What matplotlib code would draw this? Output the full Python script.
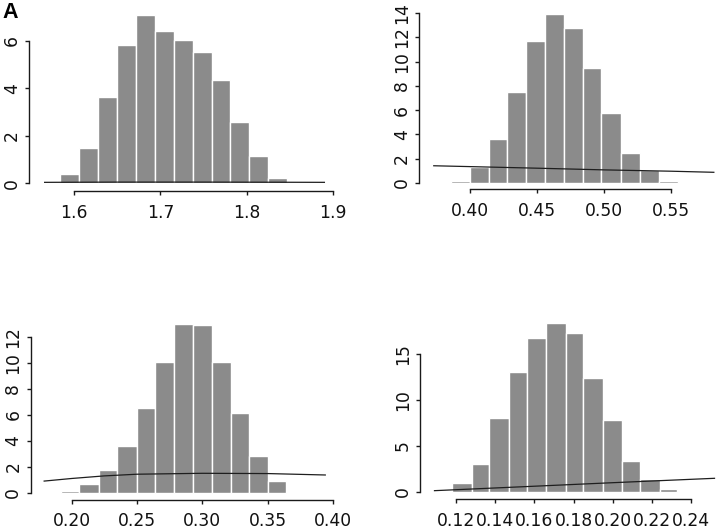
import numpy as np
import matplotlib
matplotlib.use('Agg')
import matplotlib.pyplot as plt

plt.rcParams['font.family'] = ['DejaVu Sans']

# bin edges / bar heights, plus the overlaid curve
edges1 = [1.584, 1.606, 1.628, 1.650, 1.672, 1.694, 1.716, 1.738, 1.760, 1.781, 1.803, 1.825, 1.847]
heights1 = [0.39, 1.50, 3.62, 5.83, 7.09, 6.43, 6.03, 5.55, 4.35, 2.58, 1.15, 0.21]
curve1_x = [1.566, 1.65, 1.75, 1.89]
curve1_y = [0.04, 0.05, 0.05, 0.04]
xticks1 = [1.6, 1.7, 1.8, 1.9]
xlabels1 = ['1.6', '1.7', '1.8', '1.9']
yticks1 = [0, 2, 4, 6]

edges2 = [0.386, 0.400, 0.414, 0.428, 0.442, 0.456, 0.470, 0.484, 0.498, 0.513, 0.527, 0.541, 0.555]
heights2 = [0.15, 1.27, 3.59, 7.50, 11.75, 13.96, 12.8, 9.46, 5.74, 2.46, 1.02, 0.15]
curve2_x = [0.373, 0.40, 0.45, 0.50, 0.55, 0.582]
curve2_y = [1.40, 1.33, 1.20, 1.06, 0.95, 0.86]
xticks2 = [0.40, 0.45, 0.50, 0.55]
xlabels2 = ['0.40', '0.45', '0.50', '0.55']
yticks2 = [0, 2, 4, 6, 8, 10, 12, 14]

edges3 = [0.192, 0.206, 0.221, 0.235, 0.250, 0.264, 0.278, 0.293, 0.307, 0.322, 0.336, 0.350, 0.364]
heights3 = [0.10, 0.70, 1.75, 3.61, 6.55, 10.05, 13.04, 12.94, 10.05, 6.19, 2.86, 0.90]
curve3_x = [0.179, 0.20, 0.225, 0.25, 0.30, 0.35, 0.394]
curve3_y = [0.90, 1.10, 1.30, 1.43, 1.50, 1.48, 1.37]
xticks3 = [0.20, 0.25, 0.30, 0.35, 0.40]
xlabels3 = ['0.20', '0.25', '0.30', '0.35', '0.40']
yticks3 = [0, 2, 4, 6, 8, 10, 12]

edges4 = [0.118, 0.128, 0.137, 0.147, 0.156, 0.166, 0.176, 0.185, 0.195, 0.205, 0.214, 0.224, 0.233]
heights4 = [0.98, 3.06, 8.01, 13.03, 16.8, 18.4, 17.3, 12.45, 7.83, 3.35, 1.35, 0.25]
curve4_x = [0.109, 0.15, 0.20, 0.252]
curve4_y = [0.11, 0.50, 0.98, 1.46]
xticks4 = [0.12, 0.14, 0.16, 0.18, 0.20, 0.22, 0.24]
xlabels4 = ['0.12', '0.14', '0.16', '0.18', '0.20', '0.22', '0.24']
yticks4 = [0, 5, 10, 15]

W, H = 720, 530
fig = plt.figure(figsize=(7.2, 5.3), dpi=100)

def panel(box, xlim, ylim, edges, heights, cx, cy, xticks, xlabels, yticks):
    # box is (left, right, top, bottom) in pixels from top-left
    l, r, t, b = box
    ax = fig.add_axes([l / W, 1 - b / H, (r - l) / W, (b - t) / H])
    ax.bar(edges[:-1], heights, width=np.diff(edges), align='edge',
           color='#8b8b8b', edgecolor='white', linewidth=1.0, zorder=2)
    ax.plot(cx, cy, color='#1e1e1e', lw=0.9, zorder=3)
    ax.set_xlim(*xlim)
    ax.set_ylim(*ylim)
    ax.set_xticks(xticks)
    ax.set_xticklabels(xlabels)
    ax.set_yticks(yticks)
    ax.set_yticklabels([str(v) for v in yticks], rotation=90, va='center')
    for s in ['top', 'right']:
        ax.spines[s].set_visible(False)
    ax.spines['left'].set_bounds(yticks[0], yticks[-1])
    ax.spines['bottom'].set_bounds(xticks[0], xticks[-1])
    for s in ['left', 'bottom']:
        ax.spines[s].set_color('#1a1a1a')
        ax.spines[s].set_linewidth(1.0)
    ax.tick_params(axis='both', direction='out', length=3, width=1.0,
                   color='#1a1a1a', labelsize=12.3, labelcolor='#111111')
    ax.tick_params(axis='x', pad=6)
    ax.tick_params(axis='y', pad=3)
    ax.patch.set_alpha(0)
    return ax

######top left
panel((29, 337, 8.2, 191), (1.5479, 1.9046), (-0.325, 7.38),
      edges1, heights1, curve1_x, curve1_y, xticks1, xlabels1, yticks1)
######top right
panel((419.3, 720, 6.5, 189.3), (0.3622, 0.5866), (-0.545, 14.56),
      edges2, heights2, curve2_x, curve2_y, xticks2, xlabels2, yticks2)
######bottom left
panel((30.7, 336, 317, 500), (0.1687, 0.4022), (-0.56, 13.56),
      edges3, heights3, curve3_x, curve3_y, xticks3, xlabels3, yticks3)
######bottom right
panel((420, 720, 316.4, 499), (0.1016, 0.2548), (-0.8, 19.14),
      edges4, heights4, curve4_x, curve4_y, xticks4, xlabels4, yticks4)

fig.text(2 / W, 1 - 18.5 / H, 'A', fontsize=15.5, weight='bold', va='baseline', ha='left',
         family='Liberation Sans')

fig.savefig('out.png', dpi=100)
